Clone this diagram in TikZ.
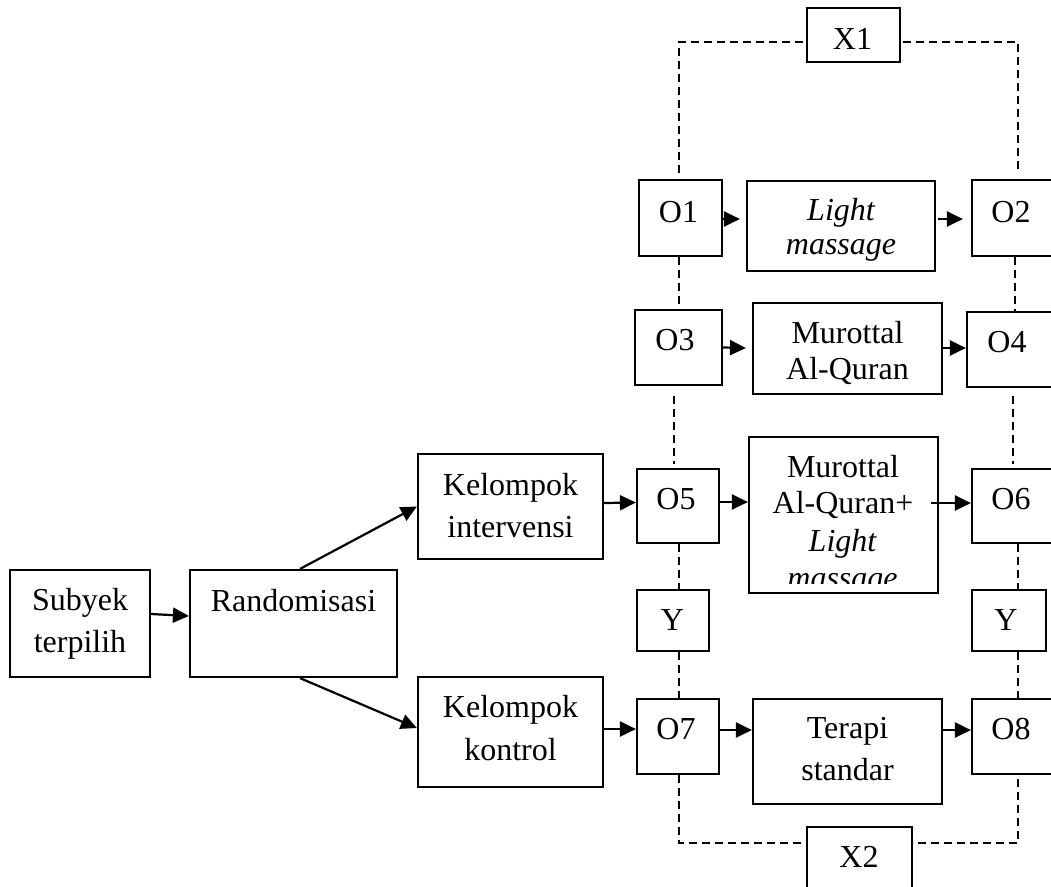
\documentclass[tikz,border=0pt]{standalone}
\usepackage{fontspec}
\setmainfont{Liberation Serif}
\usetikzlibrary{arrows.meta,fit}
\begin{document}
\begin{tikzpicture}[x=1pt,y=-1pt,
  box/.style={draw, line width=2.2pt, inner sep=0pt, rectangle},
  txt/.style={anchor=base, inner sep=0pt, font=\fontsize{32}{36}\selectfont},
  itxt/.style={anchor=base, inner sep=0pt, font=\fontsize{32}{36}\selectfont\itshape},
  arr/.style={line width=2.2pt, -{Triangle[length=16pt,width=15pt]}},
  dsh/.style={line width=2pt, dash pattern=on 8pt off 5pt}]
\useasboundingbox (0,0) rectangle (1051,886);

% boxes
\node[box, fit={(10,570) (150,677)}] (subyek) {};
\node[box, fit={(190,570) (397,677)}] (rand) {};
\node[box, fit={(418,454) (603,559)}] (kelint) {};
\node[box, fit={(418,677) (603,787)}] (kelkon) {};
\node[box, fit={(639,180) (722,256)}] (O1) {};
\node[box, fit={(747,181) (935,271)}] (LM) {};
\node[box, fit={(972,180) (1054,256)}] (O2) {};
\node[box, fit={(635,310) (722,385)}] (O3) {};
\node[box, fit={(753,303) (942,394)}] (MA) {};
\node[box, fit={(967,312) (1054,387)}] (O4) {};
\node[box, fit={(637,469) (719,543)}] (O5) {};
\node[box, fit={(749,437) (938,593)}] (MLM) {};
\node[box, fit={(972,469) (1054,543)}] (O6) {};
\node[box, fit={(637,590) (709,651)}] (Y1) {};
\node[box, fit={(972,590) (1046,651)}] (Y2) {};
\node[box, fit={(637,699) (719,774)}] (O7) {};
\node[box, fit={(753,699) (942,804)}] (TS) {};
\node[box, fit={(972,699) (1054,774)}] (O8) {};
\node[box, fit={(807,8) (900,62)}] (X1) {};
\node[box, fit={(807,827) (912,892)}] (X2) {};

% texts
\node[txt] (t-sub1) at (80,610) {Subyek};
\node[txt] (t-sub2) at (80,652) {terpilih};
\node[txt] (t-rand) at (293.5,611) {Randomisasi};
\node[txt] (t-ki1) at (510.5,495) {Kelompok};
\node[txt] (t-ki2) at (510.5,537) {intervensi};
\node[txt] (t-kk1) at (510.5,717) {Kelompok};
\node[txt] (t-kk2) at (510.5,760) {kontrol};
\node[txt] (t-o1) at (678.5,222) {O1};
\node[txt] (t-o2) at (1011,222) {O2};
\node[txt] (t-x1) at (852.5,49) {X1};
\node[txt] (t-o3) at (675,350) {O3};
\node[txt] (t-ma1) at (847.5,343) {Murottal};
\node[txt] (t-ma2) at (847.5,379) {Al-Quran};
\node[txt] (t-o4) at (1007,352) {O4};
\node[txt] (t-o5) at (676,509) {O5};
\node[txt] (t-o6) at (1011,509) {O6};
\node[txt] (t-y1) at (672.5,630) {Y};
\node[txt] (t-y2) at (1006,630) {Y};
\node[txt] (t-o7) at (676,739) {O7};
\node[txt] (t-ts1) at (847.5,738) {Terapi};
\node[txt] (t-ts2) at (847.5,780) {standar};
\node[txt] (t-o8) at (1011,739) {O8};
\node[txt] (t-x2) at (859,867) {X2};

\begin{scope}
  \clip (LM.north west) rectangle ([yshift=12pt]LM.south east);
  \node[itxt] (t-lm1) at (841,220) {Light};
  \node[itxt] (t-lm2) at (841,254) {massage};
\end{scope}
\begin{scope}
  \clip (MLM.north west) rectangle ([yshift=11pt]MLM.south east);
  \node[txt] (t-mlm1) at (843,477) {Murottal};
  \node[txt] (t-mlm2) at (843,513) {Al-Quran+};
  \node[itxt] (t-mlm3) at (842.5,551) {Light};
  \node[itxt] (t-mlm4) at (842.5,588.5) {massage};
\end{scope}

% arrows
\draw[arr] ([yshift=9.5pt]subyek.east) -- ([yshift=7.5pt]rand.west);
\draw[arr] ([xshift=6.5pt]rand.north) -- (kelint.west);
\draw[arr] ([xshift=6.5pt]rand.south) -- ([yshift=4pt]kelkon.west);
\draw[arr] ([yshift=3.5pt]kelint.east) -- ([yshift=3.5pt]O5.west);
\draw[arr] ([yshift=4pt]O5.east) -- ([yshift=13pt]MLM.west);
\draw[arr] ([xshift=-8pt,yshift=12pt]MLM.east) -- ([yshift=3pt]O6.west);
\draw[arr] ([yshift=3pt]kelkon.east) -- ([yshift=7.5pt]O7.west);
\draw[arr] ([yshift=6.5pt]O7.east) -- ([yshift=21.5pt]TS.west);
\draw[arr] ([yshift=21.5pt]TS.east) -- ([yshift=6.5pt]O8.west);
\draw[arr] ([yshift=-1pt]O1.east) -- ([xshift=-6pt,yshift=7pt]LM.west);
\draw[arr] ([xshift=2pt,yshift=7pt]LM.east) -- ([xshift=-8pt,yshift=-1pt]O2.west);
\draw[arr] (O3.east) -- ([xshift=-6pt,yshift=0.5pt]MA.west);
\draw[arr] ([yshift=0.5pt]MA.east) -- ([yshift=1.5pt]O4.west);

% dashed links
\draw[dsh] ([xshift=-1.5pt,yshift=6pt]O1.north) |- ([yshift=-7pt]X1.west);
\draw[dsh] ([xshift=2pt,yshift=-7pt]X1.east) -| ([xshift=5pt,yshift=6pt]O2.north);
\draw[dsh] ([xshift=-1.5pt]O1.south) -- ([xshift=0.5pt]O3.north);
\draw[dsh] ([xshift=-4.5pt,yshift=-10pt]O3.south) -- ([xshift=-4pt,yshift=4pt]O5.north);
\draw[dsh] ([xshift=1pt]O5.south) -- ([xshift=6pt]Y1.north);
\draw[dsh] ([xshift=6pt]Y1.south) -- ([xshift=1pt]O7.north);
\draw[dsh] ([xshift=1pt]O7.south) |- ([yshift=16.5pt]X2.west);
\draw[dsh] ([xshift=5pt,yshift=16.5pt]X2.east) -| ([xshift=5pt]O8.south);
\draw[dsh] ([xshift=2pt]O2.south) -- ([xshift=4.5pt]O4.north);
\draw[dsh] ([xshift=2.5pt,yshift=-8pt]O4.south) -- ([xshift=0pt,yshift=4pt]O6.north);
\draw[dsh] ([xshift=5pt]O6.south) -- ([xshift=9pt]Y2.north);
\draw[dsh] ([xshift=9pt]Y2.south) -- ([xshift=5pt]O8.north);
\end{tikzpicture}
\end{document}
